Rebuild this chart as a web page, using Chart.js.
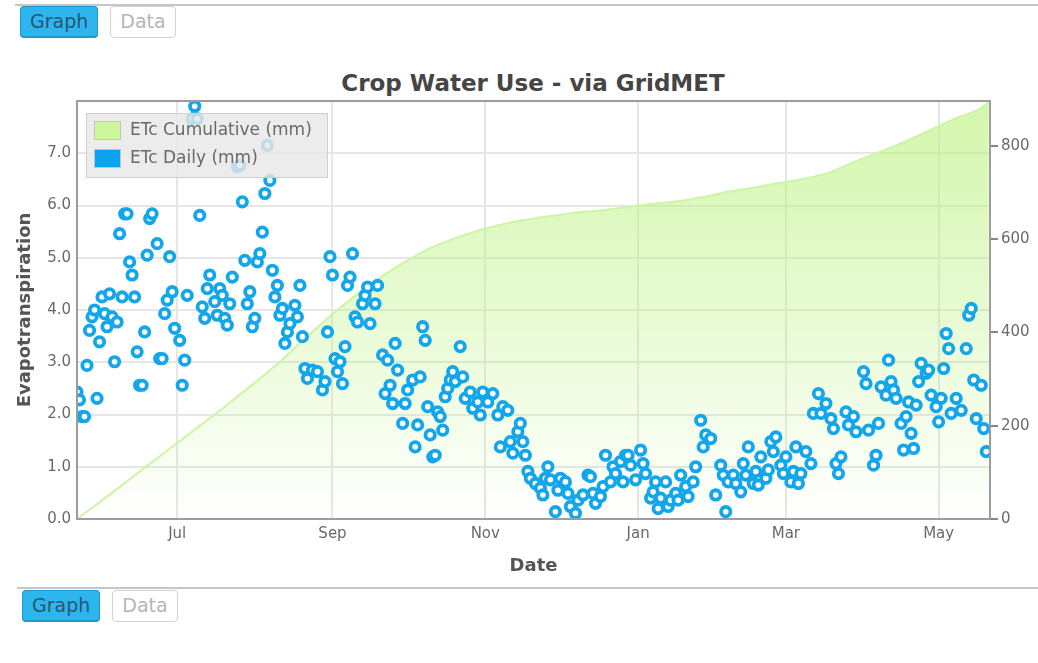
<!DOCTYPE html>
<html>
<head>
<meta charset="utf-8">
<title>Crop Water Use - via GridMET</title>
<script src="https://cdn.jsdelivr.net/npm/chart.js@4.4.1/dist/chart.umd.min.js"></script>
<style>
    body {
        margin: 0;
        width: 1038px;
        height: 663px;
        overflow: hidden;
        background: #fff;
        position: relative;
        font-family: 'DejaVu Sans', sans-serif;
    }
    .rule {
        position: absolute;
        left: 15px;
        right: 0;
        border-top: 2px solid #c6c6c6;
    }
    .tabs {
        position: absolute;
        left: 20px;
        display: flex;
        gap: 12px;
    }
    .tab {
        box-sizing: border-box;
        height: 32px;
        line-height: 29px;
        padding: 0 9px;
        font-size: 19px;
        border-radius: 4px;
    }
    .tab.on  { background: #2db5ee; color: #2a5570; border: 1px solid #1d98cc; border-bottom-width: 2px; }
    .tab.off { background: #fff; color: #b5b5b5; border: 1px solid #d2d2d2; }
    #chartTitle {
        position: absolute;
        left: 233px;
        width: 600px;
        top: 69px;
        text-align: center;
        font-size: 23px;
        line-height: 28px;
        font-weight: bold;
        color: #454545;
    }
    #chartBox {
        position: absolute;
        left: 0;
        top: 86px;
        width: 1038px;
        height: 499px;
    }
</style>
</head>
<body>

<div class="rule" style="top:4px"></div>
<div class="tabs" style="top:6px">
    <div class="tab on">Graph</div>
    <div class="tab off">Data</div>
</div>

<div id="chartTitle">Crop Water Use - via GridMET</div>
<div id="chartBox"><canvas id="cropChart" width="1038" height="499"></canvas></div>

<div class="rule" style="top:587px; left:17px"></div>
<div class="tabs" style="top:590px; left:22px">
    <div class="tab on">Graph</div>
    <div class="tab off">Data</div>
</div>

<script>
// season runs from this date; x values below are days since it
const startDate = '2017-05-22';
const endDay = 364.5;

const monthTickDates  = ['2017-07-01', '2017-09-01', '2017-11-01', '2018-01-01', '2018-03-01', '2018-05-01'];
const monthTickLabels = ['Jul', 'Sep', 'Nov', 'Jan', 'Mar', 'May'];
const etTicks  = [0, 1, 2, 3, 4, 5, 6, 7];
const cumTicks = [0, 200, 400, 600, 800];

/* ETc daily (mm) */
const dailyDay = [
    0, 1, 2, 3, 4, 5, 6, 7, 8, 9, 10, 11, 12, 13, 14, 15, 16, 17, 18, 19, 20, 21, 22, 23, 24, 25, 26, 27, 28, 29, 30,
    32, 33, 34, 35, 36, 37, 38, 39, 41, 42, 43, 44, 46, 47, 48, 49, 50, 51, 52, 53, 55, 56, 57, 58, 59, 60, 61, 62,
    64, 65, 66, 67, 68, 69, 70, 71, 72, 73, 74, 75, 76, 77, 78, 79, 80, 81, 82, 83, 84, 85, 87, 88, 89, 90, 91, 92,
    94, 96, 98, 99, 100, 101, 102, 103, 104, 105, 106, 107, 108, 109, 110, 111, 112, 114, 115, 116, 117, 119, 120,
    122, 123, 124, 125, 126, 127, 128, 130, 131, 132, 134, 135, 136, 137, 138, 139, 140, 141, 142, 143, 144, 145,
    146, 147, 148, 149, 150, 151, 153, 154, 155, 157, 158, 160, 161, 162, 164, 166, 168, 169, 170, 172, 173, 174,
    176, 177, 178, 179, 180, 181,
    183, 185, 186, 187, 188, 189, 191, 192, 193, 195, 196, 197, 199, 200, 202, 204, 205, 206, 207, 209, 210, 211,
    213, 214, 215, 217, 218, 219, 220, 221, 223, 225, 226, 227, 229, 230, 231, 232, 233, 235, 236, 237, 239, 240,
    241, 243, 244, 246, 247, 249, 250, 251, 253, 255, 257, 258, 259, 260, 262, 263, 265, 266, 267, 268, 270, 271,
    272, 273, 275, 276, 277, 278, 279, 281, 282, 283, 285, 286, 287, 288, 289, 291, 293, 294, 296, 297, 299, 301,
    302, 303, 304, 305, 307, 308, 310, 311, 314, 315, 316, 318, 319, 320, 321, 323, 324, 325, 326, 327, 329, 330,
    331, 332, 333, 334, 335, 336, 337, 339, 340, 341, 343, 344, 345, 346, 347, 348, 349, 351, 353, 355, 356, 357,
    358, 359, 361, 362, 363
];
const dailyEt = [
    2.43, 2.28, 1.96, 1.96, 2.94, 3.61, 3.87, 4.0, 2.31, 3.39, 4.25, 3.93, 3.68, 4.31, 3.87, 3.01, 3.77, 5.46, 4.25, 5.84, 5.84, 4.92, 4.67, 4.25, 3.2, 2.56, 2.56, 3.58, 5.05, 5.75, 5.84,
    5.27, 3.07, 3.07, 3.93, 4.19, 5.02, 4.35, 3.65, 3.42, 2.56, 3.04, 4.28, 7.66, 7.9, 7.66, 5.81, 4.06, 3.84, 4.41, 4.67, 4.16, 3.9, 4.41, 4.28, 3.84, 3.71, 4.12, 4.63,
    6.74, 6.77, 6.07, 4.95, 4.12, 4.35, 3.68, 3.84, 4.92, 5.08, 5.49, 6.23, 7.15, 6.48, 4.76, 4.25, 4.47, 3.9, 4.03, 3.36, 3.58, 3.74, 4.09, 3.87, 4.47, 3.49, 2.88, 2.69,
    2.85, 2.82, 2.47, 2.63, 3.58, 5.02, 4.67, 3.07, 2.82, 3.01, 2.59, 3.3, 4.47, 4.63, 5.08, 3.87, 3.77, 4.12, 4.28, 4.44, 3.74, 4.12, 4.47,
    3.14, 2.4, 3.04, 2.56, 2.21, 3.36, 2.85, 1.83, 2.21, 2.47, 2.66, 1.38, 1.8, 2.72, 3.68, 3.42, 2.15, 1.61, 1.19, 1.22, 2.05, 1.96,
    1.7, 2.34, 2.5, 2.66, 2.82, 2.63, 3.3, 2.72, 2.31, 2.43, 2.12, 2.24, 1.99, 2.43, 2.24, 2.4, 1.99, 1.38, 2.15, 2.08, 1.48, 1.26,
    1.67, 1.83, 1.48, 1.22, 0.91, 0.78,
    0.68, 0.59, 0.46, 0.78, 1.0, 0.75, 0.14, 0.55, 0.78, 0.71, 0.49, 0.24, 0.11, 0.36, 0.46, 0.84, 0.81, 0.49, 0.3, 0.43, 0.62, 1.22,
    0.71, 1.0, 0.87, 1.1, 0.71, 1.22, 1.22, 1.03, 0.75, 1.32, 1.06, 0.87, 0.4, 0.52, 0.71, 0.2, 0.4, 0.71, 0.24, 0.36, 0.49, 0.36,
    0.84, 0.62, 0.43, 0.71, 1.0, 1.89, 1.38, 1.61, 1.54, 0.46, 1.03, 0.84, 0.14, 0.71, 0.84, 0.68, 0.52, 1.06, 0.84, 1.38, 0.68, 0.91,
    0.65, 1.19, 0.78, 0.94, 1.48, 1.29, 1.57, 1.03, 0.87, 1.19, 0.71, 0.91, 1.38, 0.68, 0.87, 1.29, 1.06, 2.02, 2.4, 2.02, 2.21, 1.92,
    1.73, 1.06, 0.87, 1.19, 2.05, 1.8, 1.96, 1.67, 2.82, 2.59, 1.7, 1.03, 1.22, 1.83, 2.53, 2.37, 3.04, 2.63, 2.47, 2.31, 1.83, 1.32,
    1.96, 2.24, 1.64, 1.35, 2.18, 2.63, 2.98, 2.79, 2.85, 2.37, 2.15, 1.86, 2.31, 2.88, 3.55, 3.26, 2.02, 2.31, 2.08, 3.26, 3.9, 4.03,
    2.66, 1.92, 2.56, 1.73, 1.29
];

/* ETc cumulative (mm), read every 10 days */
const cumDay = [0, 10, 20, 30, 40, 50, 60, 70, 80, 90, 100, 110, 120, 130, 140, 150, 160, 170, 180, 190,
                200, 210, 220, 230, 240, 250, 260, 270, 280, 290, 300, 310, 320, 330, 340, 350, 360, 364];
const cumEt  = [0, 40, 81, 122, 163, 204, 245, 288, 332, 382, 430, 474, 514, 548, 578, 600, 618, 632, 642, 650,
                657, 662, 669, 676, 681, 690, 702, 710, 720, 729, 742, 765, 786, 808, 832, 857, 878, 893];

const DAY_MS = 86400000;
function dayOf(dateStr) {
    return (Date.parse(dateStr) - Date.parse(startDate)) / DAY_MS;
}
const monthTickDays = monthTickDates.map(dayOf);

Chart.defaults.font.family = "'DejaVu Sans', sans-serif";
Chart.defaults.color = '#666';

function areaFill(context) {
    const { chart } = context;
    const area = chart.chartArea;
    if (!area) return 'rgba(190,243,130,0.3)';
    const g = chart.ctx.createLinearGradient(0, area.top, 0, area.bottom);
    g.addColorStop(0, 'rgba(188,242,128,0.66)');
    g.addColorStop(0.55, 'rgba(188,242,128,0.32)');
    g.addColorStop(1, 'rgba(188,242,128,0)');
    return g;
}

/* frame round the plot, and the key drawn above the points */
const frameAndKey = {
    id: 'frameAndKey',
    afterDatasetsDraw(chart) {
        const { ctx, chartArea: a } = chart;
        ctx.save();
        ctx.lineWidth = 2;
        ctx.strokeStyle = '#9c9c9c';
        ctx.strokeRect(a.left, a.top, a.right - a.left, a.bottom - a.top);

        const x = a.left + 9, y = a.top + 12;
        ctx.fillStyle = 'rgba(232,232,232,0.82)';
        ctx.fillRect(x, y, 242, 65);
        ctx.lineWidth = 1;
        ctx.strokeStyle = '#cfcfcf';
        ctx.strokeRect(x + 0.5, y + 0.5, 241, 64);

        const rows = [
            { label: chart.data.datasets[1].label, color: '#cbf99a' },
            { label: chart.data.datasets[0].label, color: '#0ba2ef' }
        ];
        ctx.font = "17px 'DejaVu Sans', sans-serif";
        ctx.textBaseline = 'middle';
        ctx.textAlign = 'left';
        rows.forEach((r, i) => {
            const sy = y + 8 + i * 28;
            ctx.fillStyle = r.color;
            ctx.fillRect(x + 8, sy, 27, 19);
            ctx.strokeStyle = '#c4c4c4';
            ctx.strokeRect(x + 8.5, sy + 0.5, 26, 18);
            ctx.fillStyle = '#6a6a6a';
            ctx.fillText(r.label, x + 44, sy + 10);
        });
        ctx.restore();
    }
};

new Chart(document.getElementById('cropChart'), {
    type: 'scatter',
    data: {
        datasets: [
            {
                type: 'scatter',
                label: 'ETc Daily (mm)',
                data: dailyDay.map((d, i) => ({ x: d, y: dailyEt[i] })),
                yAxisID: 'y',
                pointRadius: 4.7,
                pointHoverRadius: 4.7,
                pointBorderWidth: 3.8,
                borderColor: '#14a6eb',
                backgroundColor: '#ffffff'
            },
            {
                type: 'line',
                label: 'ETc Cumulative (mm)',
                data: cumDay.map((d, i) => ({ x: d, y: cumEt[i] })),
                yAxisID: 'y2',
                fill: 'origin',
                backgroundColor: areaFill,
                borderColor: 'rgba(204,245,165,1)',
                borderWidth: 2,
                pointRadius: 0,
                tension: 0.4,
                cubicInterpolationMode: 'monotone'
            }
        ]
    },
    options: {
        responsive: false,
        animation: false,
        devicePixelRatio: 1,
        layout: { padding: { top: 14, left: 0, right: 0, bottom: 0 } },
        plugins: {
            legend: { display: false },
            tooltip: { enabled: false }
        },
        scales: {
            x: {
                type: 'linear',
                min: 0,
                max: endDay,
                afterBuildTicks: s => { s.ticks = monthTickDays.map(v => ({ value: v })); },
                afterFit: s => { s.height = 66; },
                ticks: {
                    autoSkip: false,
                    maxRotation: 0,
                    padding: 6,
                    color: '#6a6a6a',
                    font: { size: 15 },
                    callback: v => monthTickLabels[monthTickDays.indexOf(v)] ?? ''
                },
                grid: { color: '#e6e6e6', lineWidth: 2, drawTicks: false },
                border: { display: false },
                title: {
                    display: true,
                    text: 'Date',
                    color: '#555',
                    font: { size: 18, weight: 'bold' },
                    padding: { top: 0, bottom: 8 }
                }
            },
            y: {
                position: 'left',
                min: 0,
                max: 8,
                afterBuildTicks: s => { s.ticks = etTicks.map(v => ({ value: v })); },
                afterFit: s => { s.width = 77; },
                ticks: {
                    padding: 6,
                    color: '#6a6a6a',
                    font: { size: 15 },
                    callback: v => v.toFixed(1)
                },
                grid: { color: '#e6e6e6', lineWidth: 2, drawTicks: false },
                border: { display: false },
                title: {
                    display: true,
                    text: 'Evapotranspiration',
                    color: '#555',
                    font: { size: 18, weight: 'bold' },
                    padding: { top: 15, bottom: 0 }
                }
            },
            y2: {
                position: 'right',
                min: 0,
                max: 896,
                afterBuildTicks: s => { s.ticks = cumTicks.map(v => ({ value: v })); },
                afterFit: s => { s.width = 48; },
                ticks: {
                    padding: 3,
                    color: '#6a6a6a',
                    font: { size: 15 }
                },
                grid: { drawOnChartArea: false, drawTicks: true, tickLength: 8, tickColor: '#858585', lineWidth: 2 },
                border: { display: false }
            }
        }
    },
    plugins: [frameAndKey]
});
</script>
</body>
</html>
